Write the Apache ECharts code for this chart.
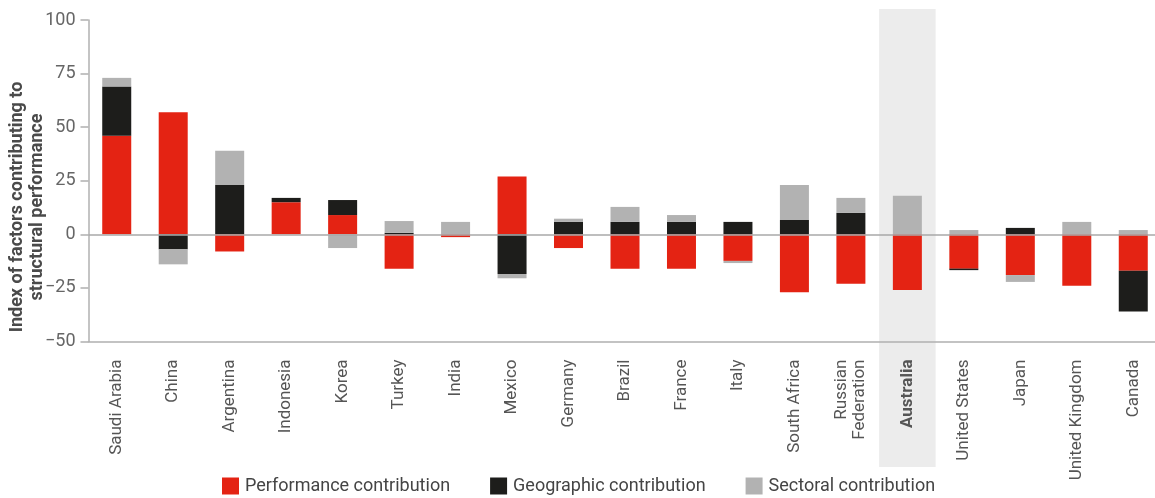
<!DOCTYPE html>
<html>
<head>
<meta charset="utf-8">
<script src="https://cdn.jsdelivr.net/npm/echarts@6/dist/echarts.min.js"></script>
<style>
  html, body { margin: 0; padding: 0; background: #fff; }
  #chart { width: 1155px; height: 498px; }
</style>
</head>
<body>
<div id="chart"></div>
<script>
const countries = ['Saudi Arabia', 'China', 'Argentina', 'Indonesia', 'Korea', 'Turkey', 'India', 'Mexico',
  'Germany', 'Brazil', 'France', 'Italy', 'South Africa', 'Russian\nFederation', 'Australia',
  'United States', 'Japan', 'United Kingdom', 'Canada']
const performance = [46, 57, -8, 15, 9, -16, -1.3, 27, -6.4, -16, -16, -12.4, -27, -23, -26, -16, -19, -24, -17]
const geographic = [23, -7, 23, 2, 7, 0.7, 0, -18.5, 5.8, 5.8, 5.8, 5.8, 6.7, 10, 0, -0.7, 3, 0, -19]
const sectoral = [4, -7, 16, 0, -6.4, 5.5, 5.8, -2, 1.5, 7, 3.2, -1, 16.3, 7, 18, 2, -3.2, 5.8, 2]
const yTicks = [-50, 100, 25]  // min, max, step

const FONT = 'Roboto, "DejaVu Sans", sans-serif'
const RED = '#e42313'
const BLACK = '#1d1d1b'
const GREY = '#b2b2b2'
const AXIS = '#b0b0b0'

const chart = echarts.init(document.getElementById('chart'))

function barSeries(name, data, color) {
  return {
    name: name,
    type: 'bar',
    stack: 'total',
    barWidth: 29,
    data: data,
    itemStyle: { color: color },
    emphasis: { disabled: true }
  }
}

const series = [
  barSeries('Performance contribution', performance, RED),
  barSeries('Geographic contribution', geographic, BLACK),
  barSeries('Sectoral contribution', sectoral, GREY)
]
// zero line drawn over the bars
series[2].markLine = {
  silent: true,
  symbol: 'none',
  label: { show: false },
  lineStyle: { color: '#a8a8a8', width: 1.5, type: 'solid' },
  data: [{ yAxis: 0 }]
}

chart.setOption({
  animation: false,
  textStyle: { fontFamily: FONT },
  grid: { left: 88.5, width: 1073, top: 20, height: 321.5, outerBoundsMode: 'none' },
  legend: {
    left: 222,
    top: 477,
    padding: 0,
    itemWidth: 17,
    itemHeight: 17,
    itemGap: 40,
    icon: 'rect',
    textStyle: { fontSize: 18, color: '#444', fontFamily: FONT, padding: [2, 0, 0, 1] },
    data: series.map(s => s.name)
  },
  xAxis: {
    type: 'category',
    data: countries,
    axisLine: { onZero: false, lineStyle: { color: AXIS, width: 1.5 } },
    axisTick: { length: 8, lineStyle: { color: AXIS, width: 1.5 } },
    axisLabel: {
      rotate: 90,
      margin: 18,
      fontSize: 17,
      color: '#555',
      lineHeight: 18,
      interval: 0,
      formatter: v => v === 'Australia' ? '{b|' + v + '}' : v,
      rich: { b: { fontWeight: 'bold', fontSize: 17, color: '#555' } }
    }
  },
  yAxis: {
    type: 'value',
    min: yTicks[0],
    max: yTicks[1],
    interval: yTicks[2],
    axisLine: { show: true, lineStyle: { color: AXIS, width: 1.5 } },
    axisTick: { show: true, length: 8, lineStyle: { color: AXIS, width: 1.5 } },
    splitLine: { show: false },
    axisLabel: {
      margin: 13,
      fontSize: 18,
      color: '#666',
      formatter: v => v < 0 ? '\u2212' + Math.abs(v) : String(v)
    }
  },
  series: series
})

// highlight band behind Australia, and the y axis title
const cx = chart.convertToPixel({ xAxisIndex: 0 }, 'Australia')
const band = chart.convertToPixel({ xAxisIndex: 0 }, countries[1]) - chart.convertToPixel({ xAxisIndex: 0 }, countries[0])
chart.setOption({
  graphic: [
    {
      type: 'rect',
      z: -10,
      silent: true,
      shape: { x: cx - band / 2, y: 9, width: band, height: 458 },
      style: { fill: '#ececec' }
    },
    {
      type: 'text',
      x: 27,
      y: 207,
      rotation: Math.PI / 2,
      silent: true,
      style: {
        text: 'Index of factors contributing to\nstructural performance',
        font: 'bold 18px ' + FONT,
        fill: '#4a4a4a',
        align: 'center',
        verticalAlign: 'middle',
        lineHeight: 20
      }
    }
  ]
})
</script>
</body>
</html>
